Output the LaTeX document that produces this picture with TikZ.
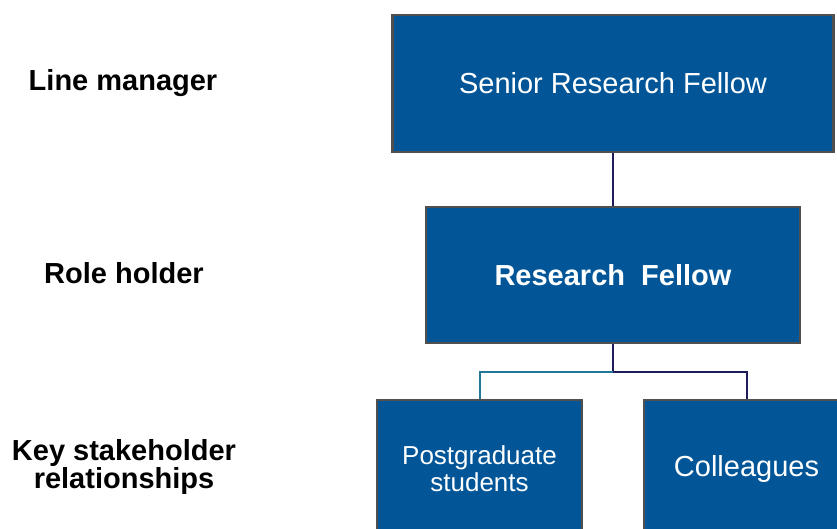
\documentclass[tikz,border=0pt]{standalone}
\usepackage{fontspec}
\setmainfont{Liberation Sans}
\definecolor{boxblue}{RGB}{2,86,152}
\definecolor{boxedge}{RGB}{80,80,80}
\definecolor{navyline}{RGB}{30,28,90}
\definecolor{tealline}{RGB}{34,118,150}
\begin{document}
\begin{tikzpicture}[x=1pt,y=-1pt,
  rolebox/.style={rectangle, draw=boxedge, line width=2.5pt, fill=boxblue, text=white, inner sep=0pt, align=center, font=\fontsize{29}{33}\selectfont},
  levellabel/.style={align=center, font=\fontsize{29}{28}\selectfont\bfseries},
  navylink/.style={draw=navyline, line width=2pt},
  teallink/.style={draw=tealline, line width=2pt}]
\useasboundingbox (0,0) rectangle (837,529);
\clip (0,0) rectangle (837,529);
\node[levellabel] (lm) at (123,83){Line manager};
\node[levellabel] (rh) at (124,273){Role holder};
\node[levellabel] (ks) at (124,467){Key stakeholder\\relationships};
\node[rolebox, minimum width=441pt, minimum height=137pt] (srf) at (613,83.5){Senior Research Fellow};
\node[rolebox, minimum width=374pt, minimum height=136pt] (rf) at (613,275){\bfseries Research\ \ Fellow};
\node[rolebox, minimum width=205pt, minimum height=138pt, font=\fontsize{26}{27}\selectfont] (pg) at (479.5,469){Postgraduate\\students};
\node[rolebox, minimum width=205pt, minimum height=138pt] (coll) at (746.5,469){Colleagues};
\coordinate (split) at (613,372);
\draw[navylink](srf) -- (rf);
\draw[navylink](rf) -- (split);
\draw[teallink](split) -| (pg);
\draw[navylink](split) -| (coll);
\end{tikzpicture}
\end{document}
